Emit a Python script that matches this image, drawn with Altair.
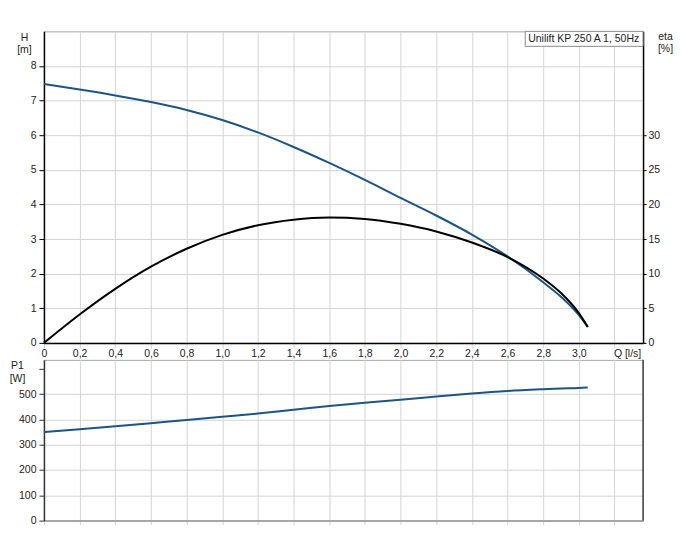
import altair as alt
import pandas as pd

# ---- data ----
Q = [0, 0.2, 0.4, 0.6, 0.8, 1.0, 1.2, 1.4, 1.6, 1.8, 2.0, 2.2, 2.4, 2.6, 2.8, 2.9, 3.0, 3.05]
H = [7.48, 7.32, 7.15, 6.96, 6.73, 6.44, 6.08, 5.66, 5.20, 4.71, 4.19, 3.68, 3.13, 2.50, 1.75, 1.33, 0.80, 0.46]
ETA = [0, 4.1, 7.8, 11.0, 13.6, 15.6, 17.0, 17.8, 18.1, 17.9, 17.2, 16.1, 14.5, 12.4, 9.3, 7.2, 4.3, 2.3]
P1 = [350, 361, 373, 385, 397, 410, 423, 438, 453, 466, 477, 490, 502, 512, 519, 522, 524, 526]

Q_TICKS = [0, 0.2, 0.4, 0.6, 0.8, 1.0, 1.2, 1.4, 1.6, 1.8, 2.0, 2.2, 2.4, 2.6, 2.8, 3.0, 3.2]
H_TICKS = [0, 1, 2, 3, 4, 5, 6, 7, 8]
ETA_TICKS = [0, 5, 10, 15, 20, 25, 30]
P1_TICKS = [0, 100, 200, 300, 400, 500, 600]
LEGEND_TEXT = "Unilift KP 250 A 1, 50Hz"

df = pd.DataFrame({"Q": Q, "H": H, "eta": ETA, "P1": P1})

FONT = "Liberation Sans"
BLUE = "#1d5486"
GRID = "#d4d4d4"
FS = 10.5
INTERP = "monotone"

W = 600
H_TOP = 312
H_BOT = 161

x_scale = alt.Scale(domain=[0, 3.36], nice=False, zero=False)
q_label = ("datum.value > 3.1 ? '' : (datum.value == 0 ? '0' : "
           "replace(format(datum.value, '.1f'), '.', ','))")

base = alt.Chart(df)

x_top = alt.X(
    "Q:Q", scale=x_scale,
    axis=alt.Axis(values=Q_TICKS, labelExpr=q_label, title="Q [l/s]",
                  titleX=584, titleY=11, titleAlign="center", titleBaseline="middle",
                  domainColor="black", domainWidth=1.5, tickColor=GRID, tickSize=5,
                  labelPadding=1, gridColor=GRID, labelFlush=False, labelOverlap=False),
)

h_line = base.mark_line(color=BLUE, strokeWidth=2, interpolate=INTERP).encode(
    x=x_top,
    y=alt.Y("H:Q", scale=alt.Scale(domain=[0, 9], nice=False),
            axis=alt.Axis(values=H_TICKS, title=["H", "[m]"], titleAngle=0,
                          titleX=-20, titleY=1, titleAlign="center", titleBaseline="top",
                          domainColor="black", domainWidth=1.5, tickColor="black",
                          tickSize=5, labelPadding=3, gridColor=GRID)),
)

eta_line = base.mark_line(color="black", strokeWidth=2, interpolate=INTERP).encode(
    x=x_top,
    y=alt.Y("eta:Q", scale=alt.Scale(domain=[0, 45], nice=False),
            axis=alt.Axis(orient="right", values=ETA_TICKS, grid=False,
                          title=["eta", "[%]"], titleAngle=0, titleX=22, titleY=0,
                          titleAlign="center", titleBaseline="top",
                          domainColor="black", domainWidth=1.5, tickColor="black",
                          tickSize=3, labelPadding=2)),
)

one = alt.Data(values=[{"t": LEGEND_TEXT}])
box = alt.Chart(one).mark_rect(fill="white", stroke="#8c8c8c", strokeWidth=1).encode(
    x=alt.value(482), x2=alt.value(W), y=alt.value(0), y2=alt.value(15)
)
box_text = alt.Chart(one).mark_text(
    align="left", baseline="middle", font=FONT, fontSize=FS, color="#222"
).encode(x=alt.value(485), y=alt.value(8), text="t:N")

top = alt.layer(h_line, eta_line, box, box_text).resolve_scale(y="independent").properties(
    width=W, height=H_TOP
)

p1_line = base.mark_line(color=BLUE, strokeWidth=2, interpolate=INTERP).encode(
    x=alt.X("Q:Q", scale=x_scale,
            axis=alt.Axis(values=Q_TICKS, labels=False, title=None,
                          domainColor="#a6a6a6", domainWidth=2, tickColor=GRID,
                          tickSize=4, gridColor=GRID)),
    y=alt.Y("P1:Q", scale=alt.Scale(domain=[0, 635], nice=False),
            axis=alt.Axis(values=P1_TICKS, title=["P1", "[W]"], titleAngle=0,
                          titleX=-27, titleY=1, titleAlign="center", titleBaseline="top",
                          labelExpr="datum.value > 550 ? '' : datum.label",
                          domainColor="#333", domainWidth=1.5, tickColor="#333",
                          tickSize=5, labelPadding=3,
                          gridColor={"condition": {"test": "datum.value > 550", "value": "transparent"},
                                     "value": GRID})),
)
right_border = alt.Chart(one).mark_rule(color="#444", strokeWidth=1.5).encode(
    x=alt.value(W), y=alt.value(0), y2=alt.value(H_BOT)
)

bottom = alt.layer(p1_line, right_border).properties(width=W, height=H_BOT)

chart = (
    alt.vconcat(top, bottom, spacing=-4)
    .properties(padding={"left": 0, "top": 22, "right": 0, "bottom": 0})
    .configure_view(stroke="#a6a6a6")
    .configure_axis(labelFont=FONT, titleFont=FONT, labelFontSize=FS, titleFontSize=FS,
                    labelColor="#222", titleColor="#222", titleFontWeight="normal")
)

chart.save("out.html", embed_options={"renderer": "svg", "actions": False})
